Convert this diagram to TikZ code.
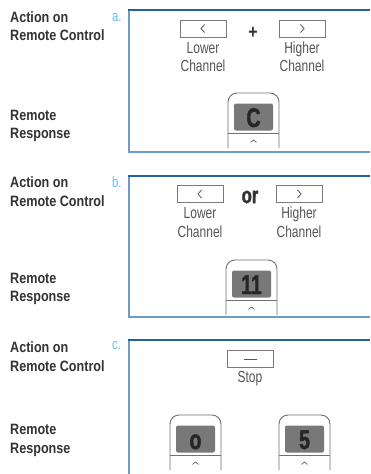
\documentclass[tikz,border=0pt]{standalone}
\usepackage{fontspec}
\setmainfont{Liberation Sans}
\newfontfamily\labfont{Liberation Sans Bold}[FakeStretch=0.84]
\newfontfamily\btnfont{Liberation Sans}[FakeStretch=0.75]
\newfontfamily\condfont{Liberation Sans Bold}[FakeStretch=0.72,FakeBold=1.6]
\definecolor{labgray}{HTML}{333333}
\definecolor{txtgray}{HTML}{555555}
\definecolor{btngray}{HTML}{7A7A7A}
\definecolor{remgray}{HTML}{707070}
\definecolor{dispgray}{HTML}{787878}
\definecolor{tagblue}{HTML}{55C3EE}
\definecolor{paneldark}{HTML}{24629E}
\definecolor{panellight}{HTML}{6F9CC6}
\newcommand\remotebox[4]{%
  \draw[remotebody] (#2,#3+55) -- (#2,#3) -- (#2+51,#3) -- (#2+51,#3+55);
  \node[disp] (#1) at (#2+25.5,#3+24) {};
  \node[disptext] (#1t) at (#2+25.5,#3+34) {#4};
  \draw[remgray, line width=0.8pt] (#2,#3+40) -- (#2+51,#3+40);
  \draw[caret] (#2+22.5,#3+49.5) -- (#2+25.5,#3+47) -- (#2+28.5,#3+49.5);
}
\begin{document}
\begin{tikzpicture}[x=1pt,y=-1pt,
  lab/.style={anchor=base west, inner sep=0, font=\labfont\fontsize{15}{16}\selectfont, text=labgray},
  tag/.style={anchor=base west, inner sep=0, font=\btnfont\fontsize{15}{16}\selectfont, text=tagblue},
  btnbox/.style={draw=btngray, line width=0.8pt, minimum width=46pt, minimum height=17pt, inner sep=0},
  btnlab/.style={anchor=base, inner sep=0, font=\btnfont\fontsize{16}{16}\selectfont, text=txtgray},
  disp/.style={fill=dispgray, rounded corners=2pt, minimum width=39pt, minimum height=27pt, inner sep=0},
  disptext/.style={anchor=base, inner sep=0, font=\condfont\fontsize{27}{27}\selectfont, text=black!85},
  remotebody/.style={draw=remgray, line width=0.9pt, rounded corners=9pt},
  chev/.style={draw=txtgray, line width=0.8pt},
  caret/.style={draw=txtgray, line width=0.6pt},
  conj/.style={anchor=center, inner sep=0, font=\condfont\fontsize{23}{23}\selectfont, text=labgray},
  paneltop/.style={draw=paneldark, line width=1.6pt},
  panelside/.style={draw=panellight, line width=1.6pt}
]
\useasboundingbox (0,0) rectangle (370,474);
\fill[white] (0,0) rectangle (370,474);

% ---------- panel a ----------
\draw[panelside] (129,10) -- (129,152) -- (370,152);
\draw[paneltop] (128.2,10) -- (370,10);
\node[lab] (a1) at (10,22) {Action on};
\node[lab] (a2) at (10,40.5) {Remote Control};
\node[lab] (a3) at (10,120) {Remote};
\node[lab] (a4) at (10,138.5) {Response};
\node[tag] (atag) at (112,21) {a.};
\node[btnbox] (alo) at (203,28.5) {};
\draw[chev] ([xshift=1.5pt,yshift=4pt]alo.center) -- ([xshift=-2pt]alo.center) -- ([xshift=1.5pt,yshift=-4pt]alo.center);
\node[btnbox] (ahi) at (302,28.5) {};
\draw[chev] ([xshift=-1.5pt,yshift=4pt]ahi.center) -- ([xshift=2pt]ahi.center) -- ([xshift=-1.5pt,yshift=-4pt]ahi.center);
\node[conj, font=\labfont\fontsize{19}{19}\selectfont] (aplus) at (253,33) {+};
\node[btnlab] (alo1) at (203,53.3) {Lower};
\node[btnlab] (alo2) at (203,71.7) {Channel};
\node[btnlab] (ahi1) at (302,53.3) {Higher};
\node[btnlab] (ahi2) at (302,71.7) {Channel};
\remotebox{arem}{228}{93}{C}

% ---------- panel b ----------
\draw[panelside] (129,176) -- (129,317) -- (370,317);
\draw[paneltop] (128.2,176) -- (370,176);
\node[lab] (b1) at (10,187) {Action on};
\node[lab] (b2) at (10,206) {Remote Control};
\node[lab] (b3) at (10,283) {Remote};
\node[lab] (b4) at (10,301) {Response};
\node[tag] (btag) at (112,187) {b.};
\node[btnbox] (blo) at (200,194) {};
\draw[chev] ([xshift=1.5pt,yshift=4pt]blo.center) -- ([xshift=-2pt]blo.center) -- ([xshift=1.5pt,yshift=-4pt]blo.center);
\node[btnbox] (bhi) at (299,194) {};
\draw[chev] ([xshift=-1.5pt,yshift=4pt]bhi.center) -- ([xshift=2pt]bhi.center) -- ([xshift=-1.5pt,yshift=-4pt]bhi.center);
\node[conj] (bor) at (250,197) {or};
\node[btnlab] (blo1) at (200,218) {Lower};
\node[btnlab] (blo2) at (200,237) {Channel};
\node[btnlab] (bhi1) at (299,218) {Higher};
\node[btnlab] (bhi2) at (299,237) {Channel};
\remotebox{brem}{226}{260}{11}

% ---------- panel c ----------
\draw[panelside] (129,340) -- (129,474);
\draw[paneltop] (128.2,340) -- (370,340);
\node[lab] (c1) at (10,352) {Action on};
\node[lab] (c2) at (10,371) {Remote Control};
\node[lab] (c3) at (10,434) {Remote};
\node[lab] (c4) at (10,453) {Response};
\node[tag] (ctag) at (112,349) {c.};
\node[btnbox] (cstop) at (250,359) {};
\draw[chev] ([xshift=-6.5pt]cstop.center) -- ([xshift=6.5pt]cstop.center);
\node[btnlab] (cstopl) at (250,382) {Stop};
\remotebox{crem1}{170}{415}{o}
\remotebox{crem2}{279}{415}{5}
\end{tikzpicture}
\end{document}
